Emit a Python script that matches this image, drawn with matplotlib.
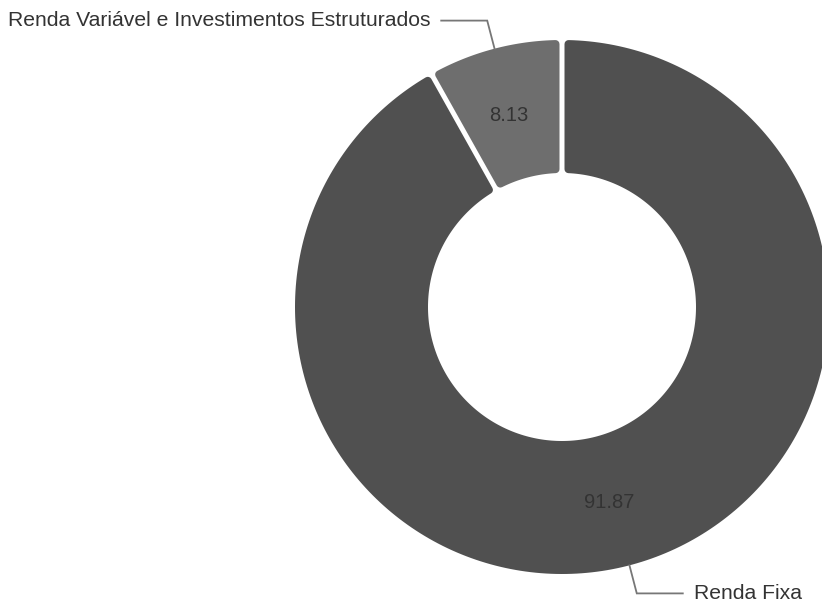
import numpy as np
import matplotlib
matplotlib.use("Agg")
import matplotlib.pyplot as plt
from matplotlib.patches import Polygon

# ---- data ----
categories = ["Renda Fixa", "Renda Variável e Investimentos Estruturados"]
values = [91.87, 8.13]
value_labels = ["91.87", "8.13"]
colors = ["#505050", "#6e6e6e"]

plt.rcParams['font.family'] = ['Liberation Sans', 'DejaVu Sans']

W, H = 822, 601
fig = plt.figure(figsize=(W / 100, H / 100), dpi=100)
ax = fig.add_axes([0, 0, 1, 1])
ax.set_xlim(0, W)
ax.set_ylim(H, 0)
ax.axis('off')

cx, cy = 562, 307
R, r = 267, 134
gap = 5.0
rc = 4.0
h = gap / 2 + rc


def pt(rho, phi):
    return cx + rho * np.sin(phi), cy - rho * np.cos(phi)


total = sum(values)
start = 0.0
for cat, val, lab, col in zip(categories, values, value_labels, colors):
    span = 2 * np.pi * val / total
    p1, p2 = start, start + span
    ro, ri = R - rc, r + rc
    ao1, ao2 = p1 + np.arcsin(h / ro), p2 - np.arcsin(h / ro)
    ai1, ai2 = p1 + np.arcsin(h / ri), p2 - np.arcsin(h / ri)
    to = np.linspace(ao1, ao2, 300)
    ti = np.linspace(ai2, ai1, 300)
    xs = np.concatenate([cx + ro * np.sin(to), cx + ri * np.sin(ti)])
    ys = np.concatenate([cy - ro * np.cos(to), cy - ri * np.cos(ti)])
    poly = Polygon(np.column_stack([xs, ys]), closed=True, facecolor=col,
                   edgecolor=col, linewidth=2 * rc * 72 / 100, joinstyle='round')
    ax.add_patch(poly)

    mid = (p1 + p2) / 2
    mx, my = pt((R + r) / 2, mid)
    ax.text(mx - 3, my + 2, lab, ha='center', va='center',
            fontsize=14.5, color='#333333')

    # leader line
    x0, y0 = pt(R, mid)
    ex, ey = pt(R + 29, mid)
    side = 1 if np.sin(mid) >= 0 else -1
    hx = ex + side * 46
    ax.plot([x0, ex, hx], [y0, ey, ey], color='#777777', lw=1.3,
            solid_joinstyle='miter')
    ax.text(hx + side * 11, ey, cat, ha='left' if side > 0 else 'right',
            va='center', fontsize=15.2, color='#333333')

    start = p2

fig.savefig("out.png", dpi=100)
